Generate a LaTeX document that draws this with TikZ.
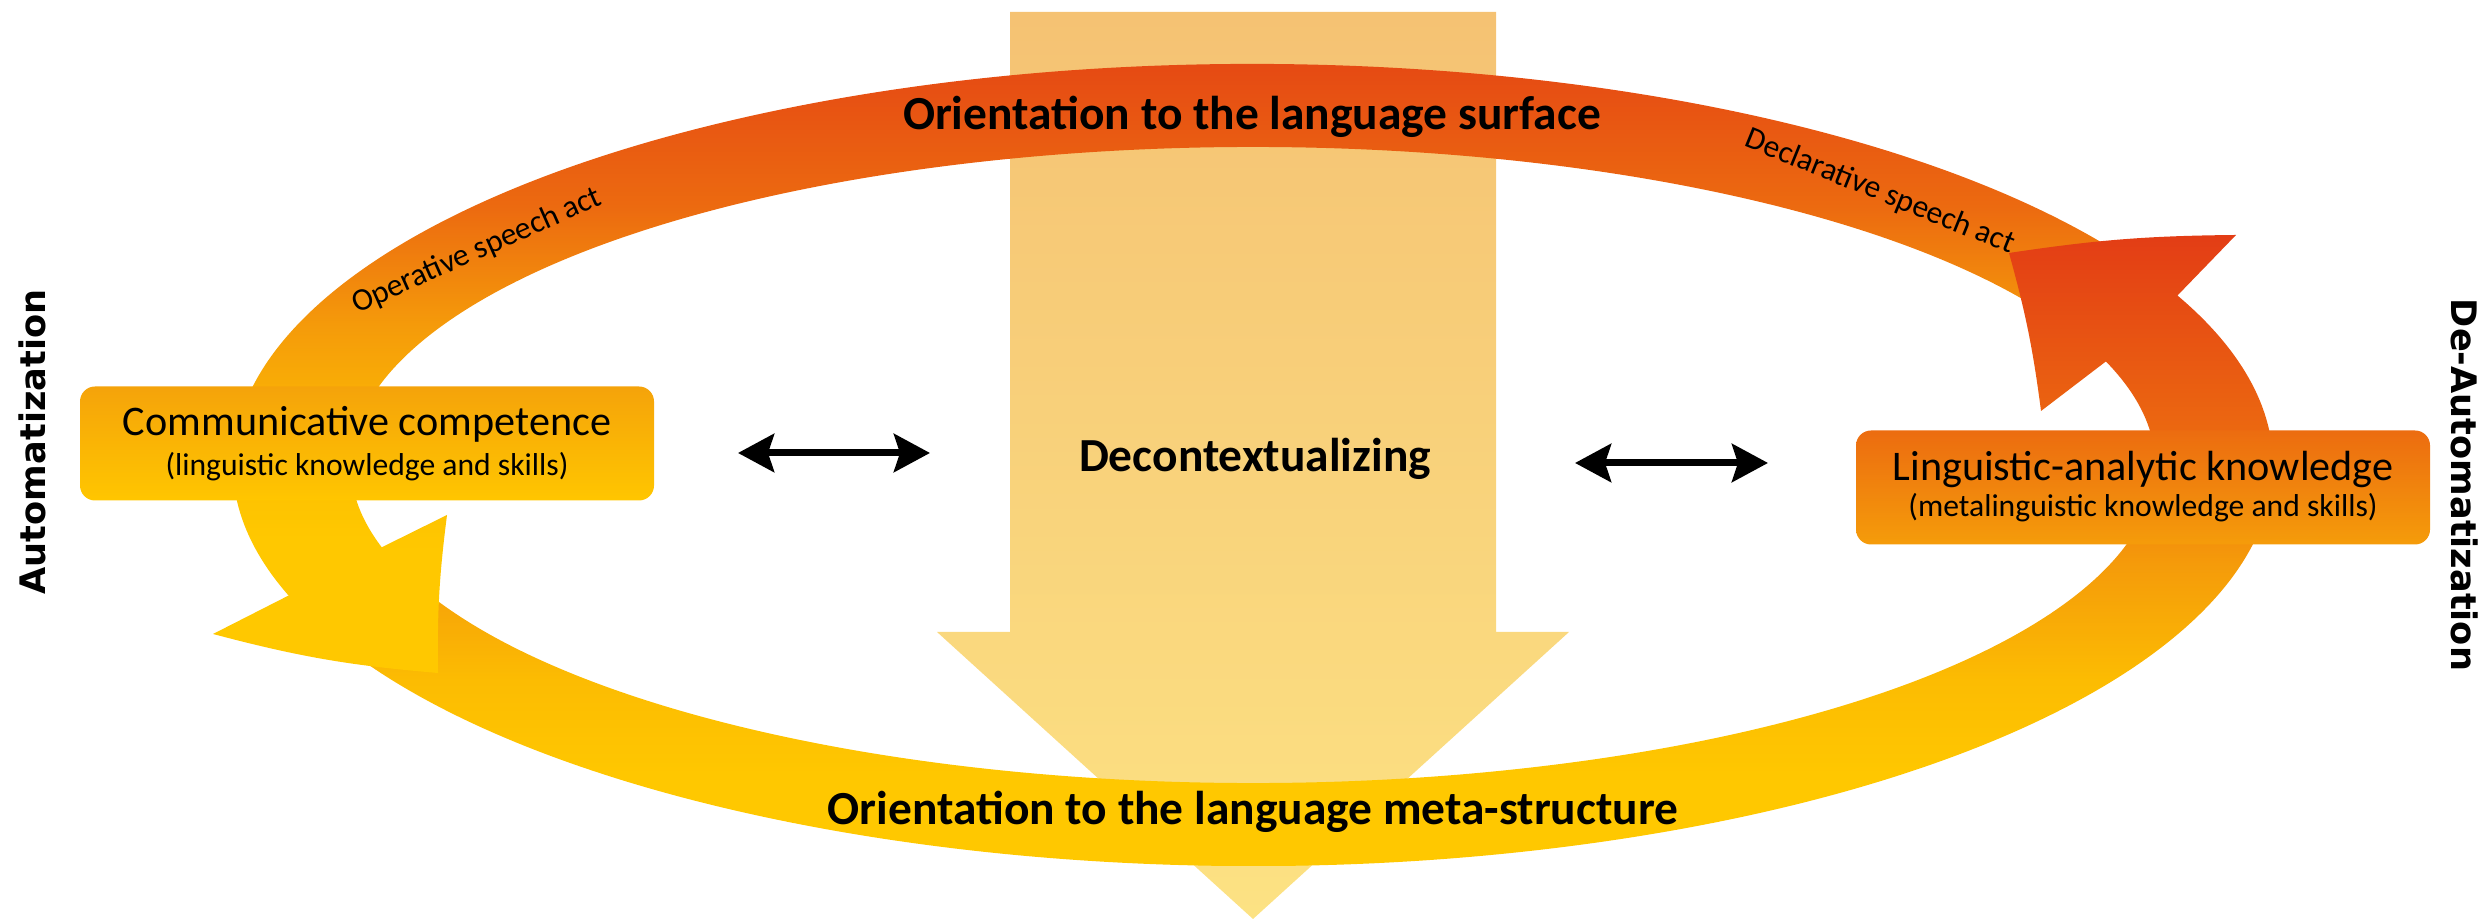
\documentclass[tikz,border=0pt]{standalone}
\usepackage{fontspec}
\setmainfont{Carlito}
\newfontfamily\sidefont{DejaVu Sans}
\usepackage{tikz}
\usetikzlibrary{arrows.meta, positioning}

\definecolor{ringred}{HTML}{E33D15}
\definecolor{ringdark}{HTML}{EC6A10}
\definecolor{ringorange}{HTML}{F59B0A}
\definecolor{ringamber}{HTML}{FCBC02}
\definecolor{ringyellow}{HTML}{FFC800}
\definecolor{bigtop}{HTML}{F5C273}
\definecolor{bigbottom}{HTML}{FCE283}
\definecolor{commtop}{HTML}{F5A30A}
\definecolor{commbottom}{HTML}{FFC600}
\definecolor{lingtop}{HTML}{EC6C10}
\definecolor{lingbottom}{HTML}{F59C0A}

% red on top, yellow below (only 25bp to 75bp is seen)
\pgfdeclareverticalshading{ringshade}{100bp}{color(0bp)=(ringyellow); color(35bp)=(ringyellow); color(42.5bp)=(ringamber); color(51bp)=(ringorange); color(60bp)=(ringdark); color(75bp)=(ringred); color(100bp)=(ringred)}

\tikzset{outerring/.style={x radius=10.2cm, y radius=4.01cm}, % Outer edge of the ring
innerring/.style={x radius=9.02cm, y radius=3.18cm}, % Inner edge of the ring
upperring/.style={ % Same colours for body and head of the upper arrow
path picture={\shade[shading=ringshade] (0,2.46) rectangle (24.89,8.55);}},
lowerring/.style={
path picture={\shade[shading=ringshade] (0,0.53) rectangle (24.89,6.84);}},
bigarrow/.style={top color=bigtop, bottom color=bigbottom},
kbox/.style={ % Knowledge boxes
rounded corners=1.5mm, minimum width=5.74cm, minimum height=1.14cm, inner sep=0pt},
titletext/.style={font=\fontsize{12}{14}\selectfont, inner sep=0pt},
subtext/.style={font=\fontsize{9}{11}\selectfont, inner sep=0pt},
headtext/.style={font=\bfseries\fontsize{13.5}{16}\selectfont, inner sep=0pt},
speechtext/.style={font=\fontsize{9}{11}\selectfont, inner sep=0pt},
sidetext/.style={font=\sidefont\bfseries\fontsize{10}{12}\selectfont, inner sep=0pt},
dblarrow/.style={ % Arrows on both ends
{Stealth[length=3.6mm, width=3.8mm, inset=0.6mm]}-{Stealth[length=3.6mm, width=3.8mm, inset=0.6mm]},
line width=0.7mm}}

\begin{document}
\begin{tikzpicture}
    \useasboundingbox (0,0) rectangle (24.89,9.19);
    \coordinate (ctr) at (12.53,4.54);
    
    \shade[bigarrow] (10.10,9.07) -- (14.96,9.07) -- (14.96,2.87) -- (15.69,2.87) -- (12.53,0) -- (9.37,2.87) -- (10.10,2.87) -- cycle;
    
    \coordinate (abarbout) at (2.13,2.85);
    \coordinate (atip) at (4.38,2.46);
    \coordinate (abarbin) at (4.47,4.04);
    \coordinate (bbarbout) at (22.36,6.84);
    \coordinate (btip) at (20.09,6.66);
    \coordinate (bbarbin) at (20.41,5.08);
    
    \path[upperring] ([shift={(30:10.2cm and 4.01cm)}]ctr) arc[outerring, start angle=30, end angle=201] -- ([shift={(197:9.02cm and 3.18cm)}]ctr) arc[innerring, start angle=197, end angle=30] -- cycle;
    \path[lowerring] ([shift={(203:10.2cm and 4.01cm)}]ctr) arc[outerring, start angle=203, end angle=385] -- (bbarbout) to[bend right=4] (btip) to[bend left=4] (bbarbin) -- ([shift={(379:9.02cm and 3.18cm)}]ctr) arc[innerring, start angle=379, end angle=203] -- cycle;
    \path[upperring] ([shift={(199:10.2cm and 4.01cm)}]ctr) -- (abarbout) to[bend right=5] (atip) to[bend left=4] (abarbin) -- ([shift={(195:9.02cm and 3.18cm)}]ctr) -- cycle;
    
    \node[kbox, top color=commtop, bottom color=commbottom] (comm) at (3.67,4.755) {};
    \node[titletext, anchor=base] (commtitle) at (3.67,4.835) {Communicative competence};
    \node[subtext, anchor=base] (commsub) at (3.67,4.43) {(linguistic knowledge and skills)};
    \node[kbox, top color=lingtop, bottom color=lingbottom] (ling) at (21.43,4.315) {};
    \node[titletext, anchor=base] (lingtitle) at (21.43,4.385) {Linguistic-analytic knowledge};
    \node[subtext, anchor=base] (lingsub) at (21.43,4.02) {(metalinguistic knowledge and skills)};
    
    \node[headtext, anchor=base] (surface) at (12.52,7.89) {Orientation to the language surface};
    \node[headtext, anchor=base] (decon) at (12.55,4.47) {Decontextualizing};
    \node[headtext, anchor=base] (meta) at (12.53,0.94) {Orientation to the language meta-structure};
    \node[speechtext, rotate=24] (oper) at (4.77,6.68) {Operative speech act};
    \node[speechtext, rotate=-22] (decl) at (18.80,7.27) {Declarative speech act};
    \node[sidetext, rotate=90] (auto) at (0.32,4.77) {Automatization};
    \node[sidetext, rotate=-90] (deauto) at (24.65,4.34) {De-Automatization};
    
    \coordinate (l1) at (7.38,4.66);
    \coordinate (l2) at (9.30,4.66);
    \coordinate (r1) at (15.75,4.56);
    \coordinate (r2) at (17.68,4.56);
    \draw[dblarrow] (l1) -- (l2);
    \draw[dblarrow] (r1) -- (r2);
    
\end{tikzpicture}
\end{document}
